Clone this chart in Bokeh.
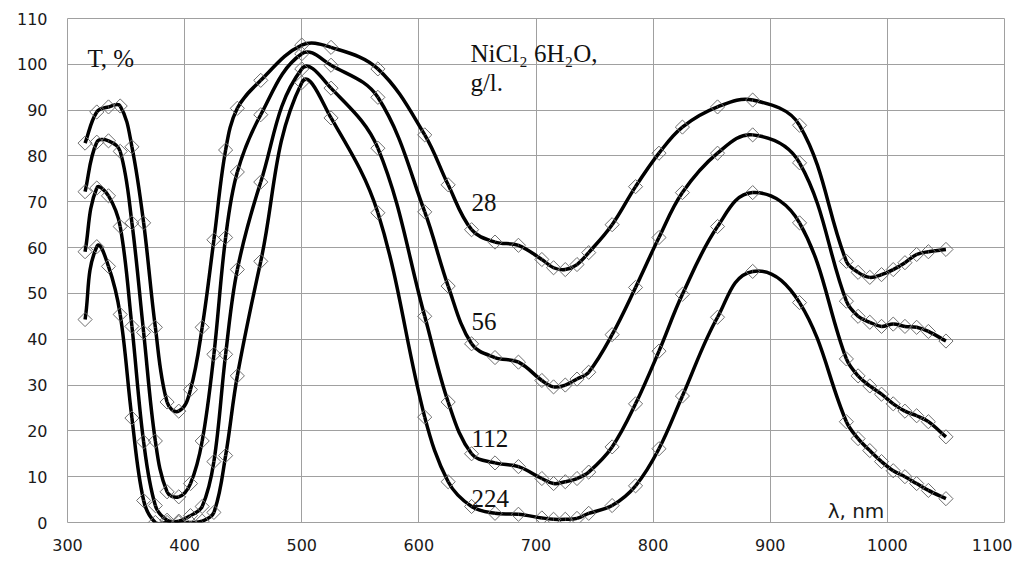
import numpy as np
from bokeh.plotting import figure
from bokeh.models import Range1d, FixedTicker, ColumnDataSource
from bokeh.core.properties import value
from bokeh.embed import file_html
from bokeh.resources import INLINE

# ---------------- data ----------------
wavelength = [315, 325, 335, 345, 355, 365, 375, 385, 395, 405, 415, 425, 435, 445,
              465, 500, 525, 565, 605, 625, 645, 665, 685, 705, 715, 725, 735, 745,
              765, 785, 805, 825, 855, 885, 925, 965, 975, 985, 995, 1005, 1015,
              1025, 1035, 1050]

t_28 = [82.8, 89.6, 90.7, 90.9, 82.0, 65.4, 42.6, 26.3, 24.3, 29.0, 42.6, 61.7, 81.3, 90.4,
        96.5, 104.2, 103.7, 99.0, 84.6, 73.7, 63.9, 61.2, 60.5, 57.4, 55.6, 55.2, 56.3, 58.9,
        65.0, 73.3, 80.6, 86.3, 90.7, 92.2, 86.7, 57.0, 54.6, 53.5, 54.1, 55.2, 56.7,
        58.5, 59.1, 59.6]

t_56 = [72.2, 83.0, 83.3, 81.0, 65.4, 41.5, 17.8, 6.7, 5.6, 8.5, 17.8, 36.7, 62.2, 76.5,
        89.0, 102.3, 99.8, 92.8, 67.8, 51.6, 39.0, 36.0, 35.0, 31.0, 29.6, 30.0, 31.3, 32.8,
        41.0, 51.3, 62.2, 72.0, 80.6, 84.6, 78.5, 48.3, 45.0, 43.7, 42.8, 43.3, 42.8,
        42.6, 41.7, 39.6]

t_112 = [59.1, 73.0, 71.3, 64.6, 42.8, 17.6, 3.7, 0.5, 0.3, 1.5, 3.5, 13.3, 36.7, 55.2,
         74.3, 99.0, 94.8, 81.7, 45.0, 26.3, 15.0, 13.0, 12.2, 9.6, 8.5, 8.9, 9.6, 11.0,
         16.5, 25.9, 37.4, 49.8, 64.6, 72.0, 65.4, 35.7, 32.0, 29.8, 28.0, 25.9, 24.3,
         23.3, 22.0, 18.7]

t_224 = [44.3, 60.2, 55.9, 45.4, 22.8, 4.8, 0.0, 0.0, 0.0, 0.0, 0.3, 2.2, 14.6, 32.0,
         57.0, 96.0, 88.3, 67.6, 23.0, 8.9, 3.5, 2.0, 1.8, 1.0, 0.7, 0.7, 0.9, 2.0,
         3.7, 8.0, 16.1, 27.6, 44.8, 54.8, 48.0, 22.0, 18.3, 15.7, 13.3, 11.3, 10.0,
         8.5, 7.0, 5.2]

series = [t_28, t_56, t_112, t_224]
curve_labels = ["28", "56", "112", "224"]

x_ticks = [300, 400, 500, 600, 700, 800, 900, 1000, 1100]
y_ticks = [0, 10, 20, 30, 40, 50, 60, 70, 80, 90, 100, 110]

y_title = "T, %"
x_title = "\u03bb, nm"
conc_title_1 = "NiCl\u2082 6H\u2082O,"
conc_title_2 = "g/l."

# ---------------- figure ----------------
p = figure(width=1012, height=557,
           x_range=Range1d(300, 1100), y_range=Range1d(0, 110),
           output_backend="svg", toolbar_location=None,
           min_border_left=67, min_border_right=8,
           min_border_top=18, min_border_bottom=35)

p.background_fill_color = "white"
p.border_fill_color = "white"
p.outline_line_color = "#a0a0a0"
p.outline_line_width = 1

for ax in (p.xaxis[0], p.yaxis[0]):
    ax.axis_line_color = None
    ax.major_tick_out = 0
    ax.major_tick_in = 0
    ax.minor_tick_out = 0
    ax.minor_tick_in = 0
    ax.major_label_text_font = "DejaVu Sans"
    ax.major_label_text_font_size = "16px"
    ax.major_label_text_color = "#1a1a1a"

p.xaxis.ticker = FixedTicker(ticks=x_ticks)
p.yaxis.ticker = FixedTicker(ticks=y_ticks)
p.xaxis.major_label_standoff = 16
p.yaxis.major_label_standoff = 20

p.xgrid.ticker = FixedTicker(ticks=x_ticks)
p.ygrid.ticker = FixedTicker(ticks=y_ticks)
p.xgrid.grid_line_color = "#a0a0a0"
p.ygrid.grid_line_color = "#a0a0a0"
p.xgrid.grid_line_width = 1
p.ygrid.grid_line_width = 1

# approximate screen scale (px per data unit) used only to shape the smoothing
SX = 937.0 / 800.0
SY = 506.0 / 110.0


def smooth_segments(xs, ys, k=0.36):
    """Cubic Bezier segments through the data points (screen-space tangents)."""
    P = np.column_stack([np.asarray(xs, float) * SX, np.asarray(ys, float) * SY])
    n = len(P)
    T = np.zeros_like(P)
    for i in range(n):
        a = P[max(i - 1, 0)]
        b = P[min(i + 1, n - 1)]
        d = b - a
        T[i] = d / np.hypot(*d)
    out = {kk: [] for kk in ("x0", "y0", "x1", "y1", "cx0", "cy0", "cx1", "cy1")}
    for i in range(n - 1):
        L = np.hypot(*(P[i + 1] - P[i]))
        c0 = P[i] + T[i] * L * k
        c1 = P[i + 1] - T[i + 1] * L * k
        out["x0"].append(P[i, 0] / SX); out["y0"].append(P[i, 1] / SY)
        out["x1"].append(P[i + 1, 0] / SX); out["y1"].append(P[i + 1, 1] / SY)
        out["cx0"].append(c0[0] / SX); out["cy0"].append(c0[1] / SY)
        out["cx1"].append(c1[0] / SX); out["cy1"].append(c1[1] / SY)
    return out


for ys in series:
    src = ColumnDataSource(smooth_segments(wavelength, ys))
    p.bezier(x0="x0", y0="y0", x1="x1", y1="y1", cx0="cx0", cy0="cy0",
             cx1="cx1", cy1="cy1", source=src,
             line_color="black", line_width=3.5)

for ys in series:
    p.scatter(wavelength, ys, marker="square", angle=np.pi / 4, size=10,
              fill_color=None, line_color="#6e6e6e", line_width=1)

serif = value("Liberation Serif")
txt_kw = dict(text_font=serif, text_font_size=value("25px"), text_color="#111111",
              text_align="left", text_baseline="alphabetic")

p.text(x=[317], y=[101.3], text=[y_title], **txt_kw)
p.text(x=[644], y=[102.4], text=[conc_title_1], **txt_kw)
p.text(x=[644], y=[96.1], text=[conc_title_2], **txt_kw)
p.text(x=[645] * 4, y=[69.8, 43.9, 18.3, 5.2], text=curve_labels, **txt_kw)

p.text(x=[949], y=[2.6], text=[x_title], text_font=value("DejaVu Sans"),
       text_font_size=value("20px"), text_color="#1a1a1a",
       text_align="left", text_baseline="alphabetic")

open("out.html", "w").write(file_html(p, INLINE))
